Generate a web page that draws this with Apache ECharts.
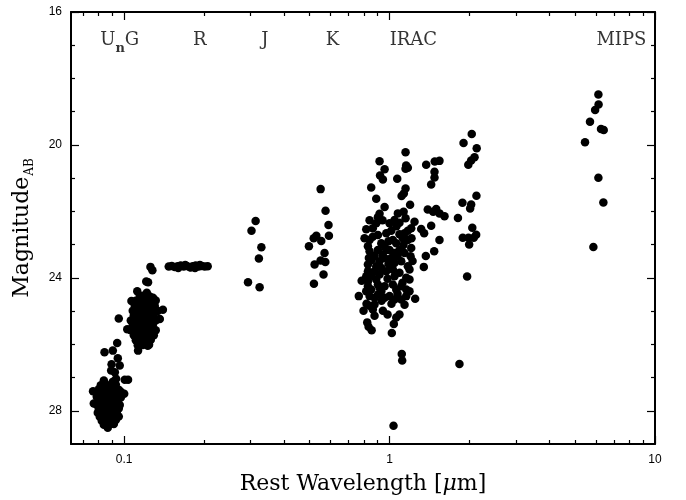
<!DOCTYPE html>
<html>
<head>
<meta charset="utf-8">
<script src="https://cdn.jsdelivr.net/npm/echarts@6/dist/echarts.min.js"></script>
<style>
  html, body { margin: 0; padding: 0; background: #fff; }
  #chart { width: 686px; height: 500px; }
</style>
</head>
<body>
<div id="chart"></div>
<script>
// Rest-frame photometry: [rest wavelength (µm), AB magnitude]
const unData = [
  [0.0764,27.41],[0.0769,27.78],[0.0839,27.09],[0.0844,26.24],[0.0907,26.19],[0.0942,25.96],
  [0.0947,26.42],[0.0897,26.60],[0.0963,26.64],[0.0894,26.79],[0.0923,26.84],[0.0933,27.04],
  [0.0907,27.13],[0.1006,27.07],[0.1035,27.07],[0.1001,27.49],
  [0.0817,27.23],[0.0853,27.20],[0.0891,27.25],[0.0931,27.21],
  [0.0803,27.35],[0.0839,27.32],[0.0876,27.36],[0.0915,27.33],[0.0955,27.37],
  [0.0796,27.47],[0.0831,27.44],[0.0868,27.48],[0.0907,27.45],[0.0947,27.46],[0.0972,27.43],
  [0.0789,27.58],[0.0824,27.60],[0.0861,27.56],[0.0899,27.59],[0.0939,27.57],[0.0972,27.60],
  [0.0796,27.71],[0.0831,27.69],[0.0868,27.72],[0.0907,27.68],[0.0947,27.71],
  [0.0789,27.82],[0.0817,27.84],[0.0853,27.81],[0.0891,27.83],[0.0931,27.80],[0.0963,27.83],
  [0.0803,27.94],[0.0839,27.95],[0.0876,27.92],[0.0915,27.96],[0.0955,27.93],
  [0.0796,28.06],[0.0824,28.05],[0.0861,28.08],[0.0899,28.04],[0.0939,28.07],
  [0.0810,28.18],[0.0846,28.19],[0.0884,28.16],[0.0923,28.20],[0.0955,28.17],
  [0.0824,28.30],[0.0853,28.31],[0.0891,28.29],[0.0931,28.28],
  [0.0839,28.42],[0.0876,28.41],[0.0915,28.40],
  [0.0868,28.51]
];

const gData = [
  [0.0955,25.22],[0.1257,23.67],[0.1278,23.77],[0.1212,24.11],[0.1231,24.13],[0.1121,24.40],
  [0.1218,24.45],[0.1066,24.70],[0.1285,24.60],[0.1400,24.96],[0.1028,25.55],[0.1363,25.24],
  [0.1129,26.19],[0.1242,26.01],
  [0.1146,24.54],[0.1197,24.52],[0.1250,24.56],
  [0.1107,24.69],[0.1156,24.70],[0.1207,24.67],[0.1261,24.71],[0.1316,24.68],
  [0.1097,24.84],[0.1146,24.82],[0.1197,24.86],[0.1250,24.83],[0.1305,24.85],
  [0.1078,24.99],[0.1126,25.00],[0.1176,24.97],[0.1228,25.01],[0.1283,24.98],[0.1339,25.00],
  [0.1088,25.13],[0.1136,25.15],[0.1186,25.12],[0.1239,25.14],[0.1294,25.11],
  [0.1060,25.28],[0.1107,25.27],[0.1156,25.30],[0.1207,25.26],[0.1261,25.29],[0.1316,25.28],
  [0.1078,25.43],[0.1126,25.44],[0.1176,25.41],[0.1228,25.45],[0.1283,25.42],
  [0.1060,25.58],[0.1107,25.57],[0.1156,25.60],[0.1207,25.56],[0.1261,25.59],[0.1316,25.58],
  [0.1088,25.73],[0.1136,25.72],[0.1186,25.74],[0.1239,25.71],[0.1294,25.73],
  [0.1107,25.88],[0.1156,25.87],[0.1207,25.89],[0.1261,25.86],
  [0.1126,26.03],[0.1176,26.02],[0.1228,26.04]
];

const rData = [
  [0.1473,23.66],[0.1512,23.64],[0.1551,23.67],[0.1592,23.65],[0.1600,23.70],[0.1634,23.63],
  [0.1677,23.66],[0.1700,23.61],[0.1722,23.64],[0.1767,23.67],[0.1780,23.69],[0.1814,23.65],
  [0.1850,23.70],[0.1861,23.63],[0.1910,23.66],[0.1930,23.61],[0.1961,23.64],[0.2012,23.66],
  [0.2065,23.65]
];

const jData = [
  [0.313,22.29],[0.302,22.58],[0.329,23.08],[0.322,23.42],[0.293,24.13],[0.324,24.28]
];

const kData = [
  [0.550,21.33],[0.574,21.98],[0.589,22.41],[0.591,22.73],[0.530,22.73],[0.518,22.81],
  [0.553,22.89],[0.497,23.05],[0.569,23.25],[0.550,23.48],[0.573,23.52],[0.522,23.60],
  [0.564,23.90],[0.519,24.18]
];

const iracData = [
  [2.04,19.67],[1.90,19.94],[2.13,20.10],[2.09,20.37],[2.03,20.47],[1.98,20.60],
  [1.149,20.22],[0.917,20.49],[1.155,20.62],[1.172,20.69],[1.149,20.72],[0.958,20.73],
  [1.374,20.60],[1.48,20.50],[1.542,20.48],[1.477,20.81],[1.477,20.98],[0.921,20.92],
  [0.944,21.04],[1.069,21.02],[1.435,21.19],[0.853,21.28],[1.149,21.31],[1.132,21.46],
  [1.11,21.54],[0.891,21.62],[2.125,21.53],[1.882,21.74],[2.03,21.79],[2.012,21.91],
  [1.195,21.80],[0.958,21.87],[0.917,22.07],[0.904,22.18],[1.075,22.06],[1.13,22.01],
  [1.149,22.21],[1.09,22.34],[1.044,22.26],[1.0,22.36],[0.891,22.36],[0.865,22.51],
  [0.817,22.54],[1.242,22.31],[1.207,22.51],[1.172,22.58],[1.139,22.66],[1.015,22.58],
  [0.972,22.66],[0.841,22.86],[0.865,22.76],[0.904,22.71],[0.931,22.96],[0.958,23.05],
  [1.029,22.86],[1.06,22.96],[1.122,22.81],[1.172,22.86],[1.207,23.10],[0.829,23.05],
  [0.841,23.20],[0.904,23.16],[0.972,23.16],[1.044,23.25],[1.09,23.16],[1.139,23.25],
  [1.20,23.35],[0.836,23.40],[0.829,23.60],[0.917,23.50],[0.958,23.40],[0.891,23.65],
  [1.015,23.40],[1.044,23.55],[1.029,23.75],[1.107,23.50],[1.172,23.65],[1.189,23.75],
  [0.829,23.80],[0.817,23.95],[0.829,24.10],[0.878,23.80],[0.931,23.70],[0.972,23.80],
  [0.917,23.90],[0.891,24.05],[1.044,23.95],[1.09,23.85],[1.156,24.00],[1.189,24.05],
  [0.829,24.25],[0.853,24.35],[0.817,24.40],[0.904,24.20],[0.931,24.40],[0.958,24.25],
  [1.029,24.20],[1.06,24.35],[1.107,24.25],[1.156,24.35],[1.189,24.40],[0.766,24.55],
  [0.841,24.55],[0.878,24.60],[0.904,24.50],[0.958,24.60],[1.0,24.55],[1.044,24.65],
  [1.107,24.65],[1.156,24.55],[1.249,24.63],[0.841,24.84],[0.878,24.80],[0.865,24.95],
  [0.944,24.99],[0.878,25.14],[1.09,25.10],[1.06,25.19],[1.038,25.39],[0.824,25.34],
  [0.834,25.47],[1.02,25.66],[1.112,26.29],[1.116,26.49],[1.035,28.45],
  [1.393,21.94],[1.46,22.01],[1.499,21.93],[1.542,22.06],[1.611,22.15],[1.81,22.20],
  [1.316,22.53],[1.35,22.66],[1.435,22.43],[2.05,22.49],[1.887,22.79],[1.983,22.79],
  [2.12,22.70],[2.076,22.79],[1.995,23.00],[1.542,22.86],[1.473,23.20],[1.37,23.34],
  [1.346,23.67],[1.96,23.96],[1.834,26.59],
  [0.856,23.46],[0.941,23.31],[0.991,23.58],[1.072,23.34],[1.129,23.01],[0.856,23.94],
  [0.983,24.03],[1.119,24.15],[0.917,24.30],[1.072,24.48],[0.805,22.81],[0.991,22.90],
  [1.090,22.69],[1.062,22.45],[0.941,22.27],[0.841,22.27],[1.210,22.81],[1.221,23.49],
  [1.0,23.16],[0.878,23.34],[0.785,24.09],[1.017,24.78],[0.933,24.69],[1.139,24.81],
  [0.819,24.78],[0.983,25.10],[0.856,25.58],[0.798,24.99]
];

const mipsData = [
  [6.12,18.48],[6.13,18.78],[5.95,18.95],[5.69,19.30],[6.26,19.52],[6.41,19.55],
  [5.45,19.92],[6.12,20.99],[6.39,21.73],[5.86,23.07]
];

// Band names and the rest wavelength each one is centred over
const bandNames = ['UnG', 'R', 'J', 'K', 'IRAC', 'MIPS'];
const bandWavelengths = [0.0963, 0.193, 0.339, 0.61, 1.23, 7.47];

// Axis ticks
const xMajorTicks = [0.1, 1, 10];
const xMinorTicks = [0.07, 0.08, 0.09, 0.2, 0.3, 0.4, 0.5, 0.6, 0.7, 0.8, 0.9, 2, 3, 4, 5, 6, 7, 8, 9];
const yMajorTicks = [16, 20, 24, 28];
const yMinorTicks = [17, 18, 19, 21, 22, 23, 25, 26, 27];

const X_MIN = 0.0631, X_MAX = 10, Y_MIN = 16, Y_MAX = 29;
const BAND_ROW_MAG = 16.84;

const lineStyle = { color: '#000', width: 2 };
const tickFont = { fontFamily: 'Liberation Sans', fontSize: 12, color: '#000' };

function xAxisDef(position, major, withLabels) {
  return {
    type: 'log', logBase: 10, position, min: X_MIN, max: X_MAX,
    axisLine: { show: major, lineStyle },
    axisTick: { show: true, inside: true, length: major ? 8 : 4,
      customValues: major ? xMajorTicks : xMinorTicks, lineStyle: { color: '#000', width: 1.2 } },
    axisLabel: withLabels ? Object.assign({ show: true, margin: 10, customValues: xMajorTicks,
      formatter: v => String(+(+v).toPrecision(3)) }, tickFont) : { show: false },
    splitLine: { show: false }, minorTick: { show: false }
  };
}
function yAxisDef(position, major, withLabels) {
  return {
    type: 'value', position, inverse: true, min: Y_MIN, max: Y_MAX,
    axisLine: { show: major, lineStyle },
    axisTick: { show: true, inside: true, length: major ? 8 : 4,
      customValues: major ? yMajorTicks : yMinorTicks, lineStyle: { color: '#000', width: 1.2 } },
    axisLabel: withLabels ? Object.assign({ show: true, margin: 9, customValues: yMajorTicks }, tickFont) : { show: false },
    splitLine: { show: false }
  };
}

const xAxes = [
  xAxisDef('bottom', true, true),
  xAxisDef('bottom', false, false),
  xAxisDef('top', true, false),
  xAxisDef('top', false, false)
];
xAxes[0].name = 'Rest Wavelength [{i|μ}m]';
xAxes[0].nameLocation = 'middle';
xAxes[0].nameGap = 29;
xAxes[0].nameTextStyle = {
  fontFamily: 'DejaVu Serif', fontSize: 22, color: '#000',
  rich: { i: { fontFamily: 'DejaVu Serif', fontStyle: 'italic', fontSize: 22, color: '#000' } }
};

const yAxes = [
  yAxisDef('left', true, true),
  yAxisDef('left', false, false),
  yAxisDef('right', true, false),
  yAxisDef('right', false, false)
];
yAxes[0].name = '{m|Magnitude}{s|AB}';
yAxes[0].nameLocation = 'middle';
yAxes[0].nameGap = 35;
yAxes[0].nameTextStyle = {
  color: '#000',
  rich: {
    m: { fontFamily: 'DejaVu Serif', fontSize: 22, color: '#000' },
    s: { fontFamily: 'DejaVu Serif', fontSize: 12, color: '#000', padding: [16, 0, 0, 1] }
  }
};

const dotSeries = [unData, gData, rData, jData, kData, iracData, mipsData].map(d => ({
  type: 'scatter', data: d, xAxisIndex: 0, yAxisIndex: 0,
  symbol: 'circle', symbolSize: 8.5, itemStyle: { color: '#000', opacity: 1 }, silent: true
}));

const bandSeries = {
  type: 'scatter', xAxisIndex: 0, yAxisIndex: 0, symbolSize: 0, silent: true,
  data: bandNames.map((n, i) => ({ name: n, value: [bandWavelengths[i], BAND_ROW_MAG] })),
  label: {
    show: true, position: 'inside',
    formatter: p => p.name === 'UnG' ? '{m|U}{s|n}{m|G}' : '{m|' + p.name + '}',
    rich: {
      m: { fontFamily: 'DejaVu Serif', fontSize: 18, color: '#000' },
      s: { fontFamily: 'DejaVu Serif', fontSize: 13, fontWeight: 'bold', color: '#000', padding: [18, 0, 0, 0] }
    }
  }
};

const chart = echarts.init(document.getElementById('chart'), null, { renderer: 'canvas' });
chart.setOption({
  animation: false,
  backgroundColor: '#fff',
  grid: { left: 71, right: 31, top: 12, bottom: 52, containLabel: false },
  xAxis: xAxes,
  yAxis: yAxes,
  series: dotSeries.concat([bandSeries])
});
</script>
</body>
</html>
